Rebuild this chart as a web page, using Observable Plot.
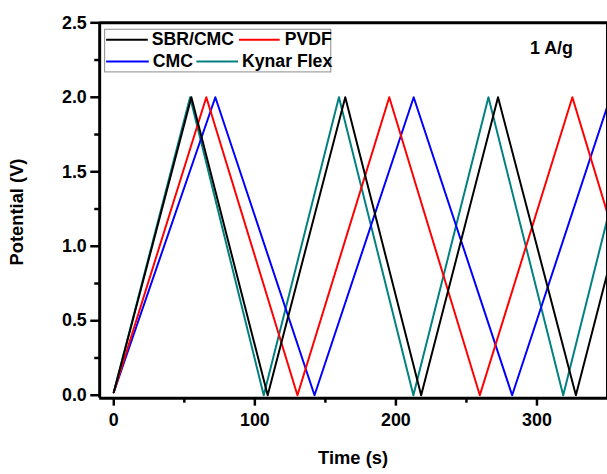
<!DOCTYPE html>
<html>
<head>
<meta charset="utf-8">
<script src="https://cdn.jsdelivr.net/npm/d3@7"></script>
<script src="https://cdn.jsdelivr.net/npm/@observablehq/plot@0.6"></script>
<style>
  html, body { margin: 0; padding: 0; background: #fff; overflow: hidden; width: 607px; height: 474px; }
  #chart { width: 607px; height: 474px; overflow: hidden; }
  svg { display: block; }
</style>
</head>
<body>
<div id="chart"></div>
<script>
// ---- data ----
const seriesNames = ["SBR/CMC", "PVDF", "CMC", "Kynar Flex"];
const seriesColors = ["#000000", "#ff0000", "#0000ff", "#008080"];

const sbrTime = [0, 55, 109.1, 164.1, 217.9, 272.4, 327.6, 382];
const sbrPot  = [0.02, 2.0, 0.0, 2.0, 0.0, 2.0, 0.0, 2.0];

const pvdfTime = [0, 65.6, 130.2, 195.3, 259.5, 325.1, 389];
const pvdfPot  = [0.02, 2.0, 0.0, 2.0, 0.0, 2.0, 0.0];

const cmcTime = [0, 72, 142.3, 212.6, 282.4, 352];
const cmcPot  = [0.02, 2.0, 0.0, 2.0, 0.0, 2.0];

const kynarTime = [0, 54.1, 106.3, 159.6, 212.4, 265.6, 318.6, 371.5];
const kynarPot  = [0.02, 2.0, 0.0, 2.0, 0.0, 2.0, 0.0, 2.0];

const xMajorTicks = [0, 100, 200, 300];
const xMinorTicks = [50, 150, 250];
const yMajorTicks = [0.0, 0.5, 1.0, 1.5, 2.0, 2.5];
const yMinorTicks = [0.25, 0.75, 1.25, 1.75, 2.25];

const xLabel = "Time (s)";
const yLabel = "Potential (V)";
const noteText = "1 A/g";

(function () {
// ---- build table ----
const mk = (name, ts, vs) => ts.map((t, i) => ({series: name, t, v: vs[i]}));
const data = [
  ...mk("Kynar Flex", kynarTime, kynarPot),
  ...mk("CMC", cmcTime, cmcPot),
  ...mk("PVDF", pvdfTime, pvdfPot),
  ...mk("SBR/CMC", sbrTime, sbrPot)
];

const W = 612, H = 474;
const xDom = [-10, 350], yDom = [-0.02, 2.5];
const font = "'Liberation Sans', Arial, sans-serif";

const plot = Plot.plot({
  width: W,
  height: H,
  marginLeft: 100,
  marginRight: 0,
  marginTop: 22.5,
  marginBottom: 73,
  style: {fontFamily: font, fontWeight: "bold", fontSize: "18px", color: "#000", background: "#fff"},
  x: {domain: xDom},
  y: {domain: yDom},
  color: {domain: seriesNames, range: seriesColors},
  marks: [
    Plot.line(data, {x: "t", y: "v", z: "series", stroke: "series", strokeWidth: 2, clip: true}),
    Plot.axisX({ticks: xMajorTicks, tickSize: 8, tickPadding: 7, strokeWidth: 2.5, tickFormat: d => String(d), fontSize: 18, fontWeight: "bold", label: null}),
    Plot.axisX({ticks: xMinorTicks, tickSize: 5, strokeWidth: 2.5, tickFormat: () => "", label: null}),
    Plot.axisY({ticks: yMajorTicks, tickSize: 9, tickPadding: 4, strokeWidth: 2.5, tickFormat: d3.format(".1f"), fontSize: 18, fontWeight: "bold", label: null}),
    Plot.axisY({ticks: yMinorTicks, tickSize: 5, strokeWidth: 2.5, tickFormat: () => "", label: null}),
    Plot.ruleX([xDom[0]], {strokeWidth: 3}),
    Plot.ruleX([xDom[1]], {strokeWidth: 3}),
    Plot.ruleY([yDom[0]], {strokeWidth: 3}),
    Plot.ruleY([yDom[1]], {strokeWidth: 3})
  ]
});

document.getElementById("chart").appendChild(plot);

// ---- labels & legend ----
const svg = d3.select(plot);
const xs = plot.scale("x"), ys = plot.scale("y");
const xMid = (xs.apply(xDom[0]) + xs.apply(xDom[1])) / 2;
const yMid = (ys.apply(yDom[0]) + ys.apply(yDom[1])) / 2;

svg.append("text")
  .attr("x", xMid).attr("y", 463)
  .attr("text-anchor", "middle").attr("dominant-baseline", "middle")
  .style("font", `bold 18.5px ${font}`).text(xLabel);

svg.append("text")
  .attr("transform", `translate(18,${yMid + 2}) rotate(-90)`)
  .attr("text-anchor", "middle").attr("dominant-baseline", "middle")
  .style("font", `bold 18.5px ${font}`).text(yLabel);

svg.append("text")
  .attr("x", 556).attr("y", 50)
  .attr("text-anchor", "middle").attr("dominant-baseline", "middle")
  .style("font", `bold 18px ${font}`).text(noteText);

// legend box
const lg = svg.append("g");
lg.append("rect")
  .attr("x", 105.5).attr("y", 29.5).attr("width", 228).attr("height", 43)
  .attr("fill", "#fff").attr("stroke", "#8a8a8a").attr("stroke-width", 1);
const items = [
  {name: seriesNames[0], color: seriesColors[0], x1: 107, x2: 149, tx: 153, y: 40},
  {name: seriesNames[1], color: seriesColors[1], x1: 241, x2: 282, tx: 287, y: 40},
  {name: seriesNames[2], color: seriesColors[2], x1: 107, x2: 150, tx: 154, y: 62},
  {name: seriesNames[3], color: seriesColors[3], x1: 198, x2: 240, tx: 244, y: 62}
];
items.forEach(it => {
  lg.append("line").attr("x1", it.x1).attr("x2", it.x2).attr("y1", it.y).attr("y2", it.y)
    .attr("stroke", it.color).attr("stroke-width", 2);
  lg.append("text").attr("x", it.tx).attr("y", it.y + 1)
    .attr("text-anchor", "start")
    .attr("dominant-baseline", "middle")
    .style("font", `bold 17.8px ${font}`).text(it.name);
});
})();
</script>
</body>
</html>
